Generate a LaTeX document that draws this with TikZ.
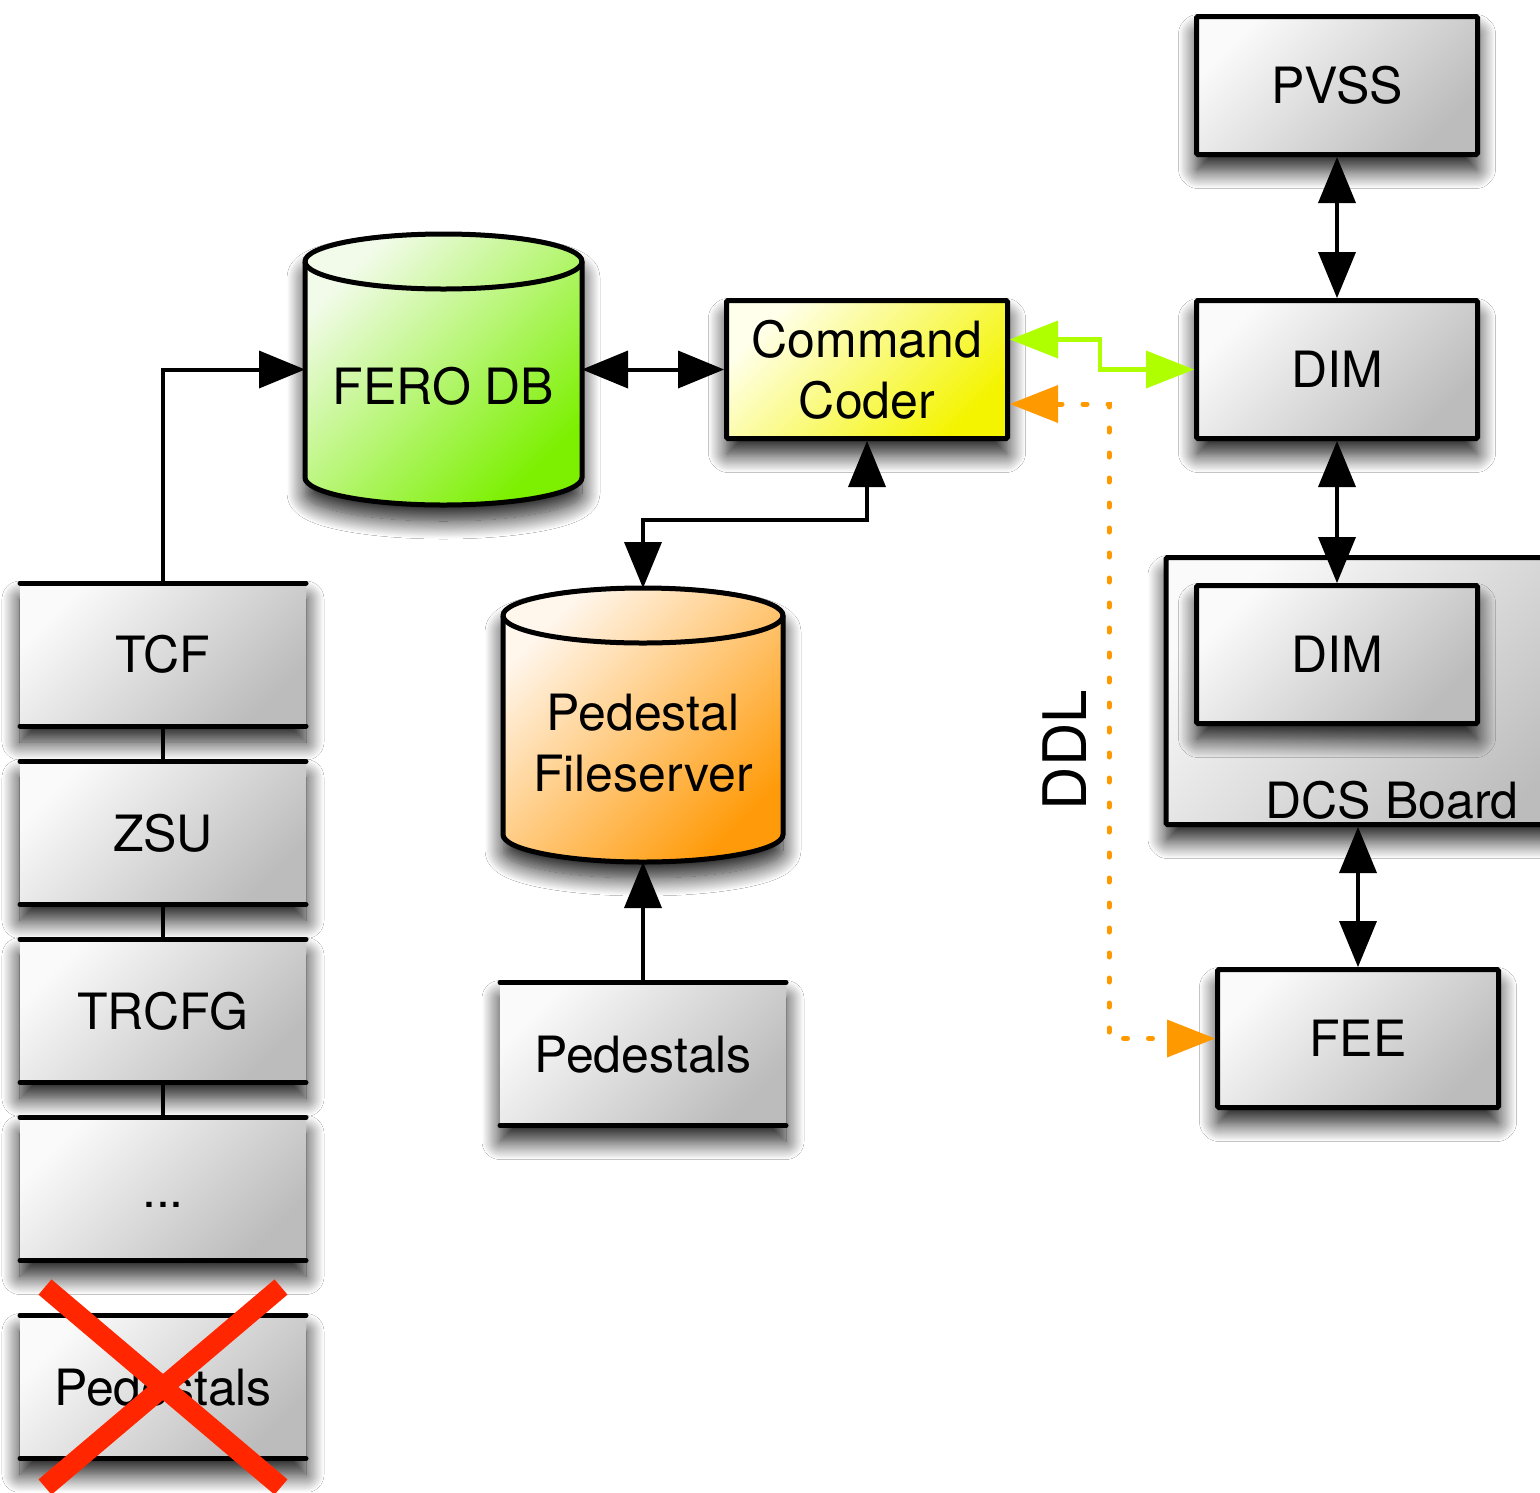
\documentclass[tikz,border=0pt]{standalone}
\usepackage{fontspec}
\setmainfont{TeX Gyre Heros}
\usetikzlibrary{arrows.meta,shadows.blur,calc}
\definecolor{limeg}{RGB}{176,255,0}
\definecolor{orng}{RGB}{255,153,0}
\definecolor{xred}{RGB}{255,38,0}
\definecolor{gLight}{RGB}{250,250,250}
\definecolor{gDark}{RGB}{188,188,188}
\definecolor{grLight}{RGB}{242,251,234}
\definecolor{grDark}{RGB}{124,240,0}
\definecolor{yLight}{RGB}{255,255,236}
\definecolor{yDark}{RGB}{244,244,0}
\definecolor{oLight}{RGB}{255,246,236}
\definecolor{oDark}{RGB}{255,155,10}
\begin{document}
\begin{tikzpicture}[x=1pt,y=1pt,
  every node/.style={font=\fontsize{50}{61}\selectfont},
  shad/.style={blur shadow={shadow xshift=0pt,shadow yshift=-16pt,shadow blur radius=18pt,shadow blur steps=20,shadow opacity=90}},
  grayfill/.style={top color=gLight,bottom color=gDark,shading angle=45},
  box/.style={draw,line width=5pt,rounded corners=1.5pt,minimum width=281pt,minimum height=138pt,grayfill,shad,inner sep=0pt},
  stackbox/.style={minimum width=286pt,minimum height=143pt,grayfill,shad,inner sep=0pt,outer sep=0pt,text height=36pt,text depth=0pt},
  hline/.style={line width=5pt,line cap=round},
  link/.style={line width=4pt},
  blk/.style={line width=4pt,{Triangle[length=46pt,width=38pt,fill=black,line width=0pt]}-{Triangle[length=46pt,width=38pt,fill=black,line width=0pt]}},
  blkone/.style={line width=4pt,-{Triangle[length=46pt,width=38pt,fill=black,line width=0pt]}},
  greenarrow/.style={line width=4.5pt,limeg,{Triangle[length=48pt,width=38pt,fill=limeg,line width=0pt]}-{Triangle[length=48pt,width=38pt,fill=limeg,line width=0pt]}},
  orangearrow/.style={line width=5pt,orng,line cap=round,dash pattern=on 4pt off 21pt,{Triangle[length=48pt,width=38pt,fill=orng,line width=0pt]}-{Triangle[length=48pt,width=38pt,fill=orng,line width=0pt]}},
  cylnode/.style={inner sep=0pt,outer sep=0pt},
  cylline/.style={draw,line width=5pt,shad}
]
\useasboundingbox[fill=white] (0,0) rectangle (1540,-1492);

% ---------- left stack ----------
\node[stackbox] (tcf)   at (163,-654.5) {TCF};
\node[stackbox] (zsu)   at (163,-833)   {ZSU};
\node[stackbox] (trcfg) at (163,-1011)  {TRCFG};
\node[stackbox] (dots)  at (163,-1189)  {...};
\node[stackbox] (pedx)  at (163,-1387)  {Pedestals};
\foreach \n in {tcf,zsu,trcfg,dots,pedx}{
  \draw[hline] (\n.north west) -- (\n.north east);
  \draw[hline] (\n.south west) -- (\n.south east);
}
\draw[link] (tcf.south) -- (zsu.north);
\draw[link] (zsu.south) -- (trcfg.north);
\draw[link] (trcfg.south) -- (dots.north);
\draw[xred,line width=20pt] ($(pedx.center)+(-118,100)$) -- ($(pedx.center)+(118,-100)$);
\draw[xred,line width=20pt] ($(pedx.center)+(118,100)$) -- ($(pedx.center)+(-118,-100)$);

% ---------- FERO DB cylinder ----------
\node[cylnode,minimum width=277pt,minimum height=271pt] (fero) at (443.5,-369.5) {};
\path[cylline,top color=grLight,bottom color=grDark,shading angle=45]
  ([yshift=-27.5pt]fero.north west) -- ([yshift=27.5pt]fero.south west)
  arc[start angle=180,end angle=360,x radius=138.5pt,y radius=27.5pt]
  -- ([yshift=-27.5pt]fero.north east)
  arc[start angle=0,end angle=180,x radius=138.5pt,y radius=27.5pt] -- cycle;
\draw[line width=5pt] ([yshift=-27.5pt]fero.north west) arc[start angle=180,end angle=360,x radius=138.5pt,y radius=27.5pt];
\node (ferotext) at ([yshift=-17pt]fero.center) {FERO DB};

% ---------- Pedestal Fileserver cylinder ----------
\node[cylnode,minimum width=280pt,minimum height=274pt] (pfs) at (643,-725) {};
\path[cylline,top color=oLight,bottom color=oDark,shading angle=45]
  ([yshift=-27.5pt]pfs.north west) -- ([yshift=27.5pt]pfs.south west)
  arc[start angle=180,end angle=360,x radius=140pt,y radius=27.5pt]
  -- ([yshift=-27.5pt]pfs.north east)
  arc[start angle=0,end angle=180,x radius=140pt,y radius=27.5pt] -- cycle;
\draw[line width=5pt] ([yshift=-27.5pt]pfs.north west) arc[start angle=180,end angle=360,x radius=140pt,y radius=27.5pt];
\node[align=center] (pfstext) at ([yshift=-18pt]pfs.center) {Pedestal\\Fileserver};

% ---------- Pedestals ----------
\node[stackbox] (peds) at (643,-1054) {Pedestals};
\draw[hline] (peds.north west) -- (peds.north east);
\draw[hline] (peds.south west) -- (peds.south east);

% ---------- Command Coder ----------
\node[box,top color=yLight,bottom color=yDark,shading angle=45,align=center] (cc) at (867,-369.5) {Command\\Coder};

% ---------- right column ----------
\node[box] (pvss) at (1337,-85.5) {PVSS};
\node[box] (dim1) at (1337,-369.5) {DIM};
\node[box,minimum width=434pt,minimum height=267pt] (dcs) at (1383,-691) {};
\node[anchor=base east] (dcslab) at (1522,-818) {DCS Board};
\node[box] (dim2) at (1337,-654.5) {DIM};
\node[box] (fee) at (1358,-1038.5) {FEE};

\node[rotate=90,font=\fontsize{60}{72}\selectfont] (ddl) at (1065,-750) {DDL};

% ---------- connectors ----------
\draw[blkone] (tcf.north) |- (cc.west -| fero.west);
\draw[blk] (cc.west -| fero.east) -- (cc.west);
\draw[blk] (cc.south) -- ++(0,-79) -| (pfs.north);
\draw[blkone] (peds.north) -- (pfs.south);
\draw[blk] (pvss.south) -- (dim1.north);
\draw[blk] (dim1.south) -- (dim2.north);
\draw[blk] (dcs.south -| fee.north) -- (fee.north);
\draw[greenarrow] ([yshift=30pt]cc.east) -- ++(90,0) |- (dim1.west);
\draw[orangearrow] ([yshift=-34.5pt]cc.east) -- ++(99,0) |- (fee.west);
\end{tikzpicture}
\end{document}
